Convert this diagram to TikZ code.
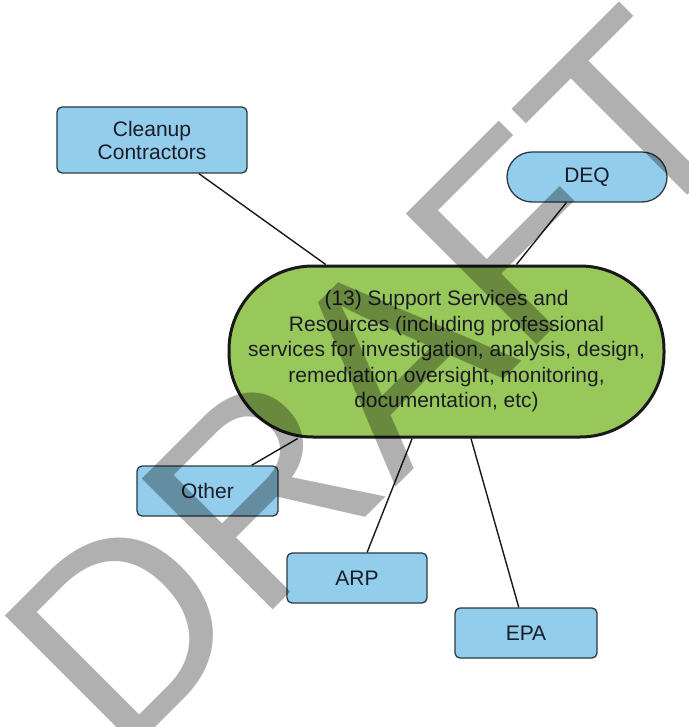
\documentclass[tikz,border=0pt]{standalone}
\usepackage{fontspec}
\setmainfont{Liberation Sans}
\definecolor{boxblue}{HTML}{92CDEB}
\definecolor{boxline}{HTML}{2E3A42}
\definecolor{hubgreen}{HTML}{99C85A}
\definecolor{txt}{HTML}{1C1C28}
\begin{document}
\begin{tikzpicture}[x=1pt,y=-1pt,
  every node/.style={inner sep=0pt, text=txt, align=center},
  bluebox/.style={draw=boxline, line width=1.3pt, fill=boxblue, rounded corners=5pt,
    minimum height=50pt, font=\fontsize{21}{23}\selectfont},
  pillbox/.style={draw=boxline, line width=1.3pt, fill=boxblue, rounded corners=25pt,
    minimum height=50pt, font=\fontsize{21}{23}\selectfont},
  hub/.style={draw=black!90, line width=3pt, fill=hubgreen, rounded corners=84pt,
    minimum width=435pt, minimum height=171pt, font=\fontsize{21}{25.5}\selectfont},
  link/.style={draw=black!90, line width=1.4pt}]
\useasboundingbox (0,0) rectangle (688,727);
\fill[white] (0,0) rectangle (688,727);
% nodes
\node[hub] (hub) at (446.5,351.5) {(13) Support Services and\\Resources (including professional\\services for investigation, analysis, design,\\remediation oversight, monitoring,\\documentation, etc)};
\node[bluebox, minimum width=190pt, minimum height=66pt] (clean) at (152,140) {Cleanup\\Contractors};
\node[pillbox, minimum width=160pt] (deq) at (587,177) {DEQ};
\node[bluebox, minimum width=141pt] (other) at (207.5,491) {Other};
\node[bluebox, minimum width=140pt] (arp) at (357,578) {ARP};
\node[bluebox, minimum width=142pt] (epa) at (526,633) {EPA};
% connectors
\draw[link] (clean) -- (hub);
\draw[link] (deq) -- (hub);
\draw[link] (other) -- (hub);
\draw[link] (arp) -- (hub);
\draw[link] (epa) -- (hub);
% watermark
\begin{scope}
\clip (0,0) rectangle (688,727);
\node[rotate=45, text=black, text opacity=0.31, font=\fontsize{269}{269}\selectfont] (wm) at (372,380) {DRAFT};
\end{scope}
\end{tikzpicture}
\end{document}
